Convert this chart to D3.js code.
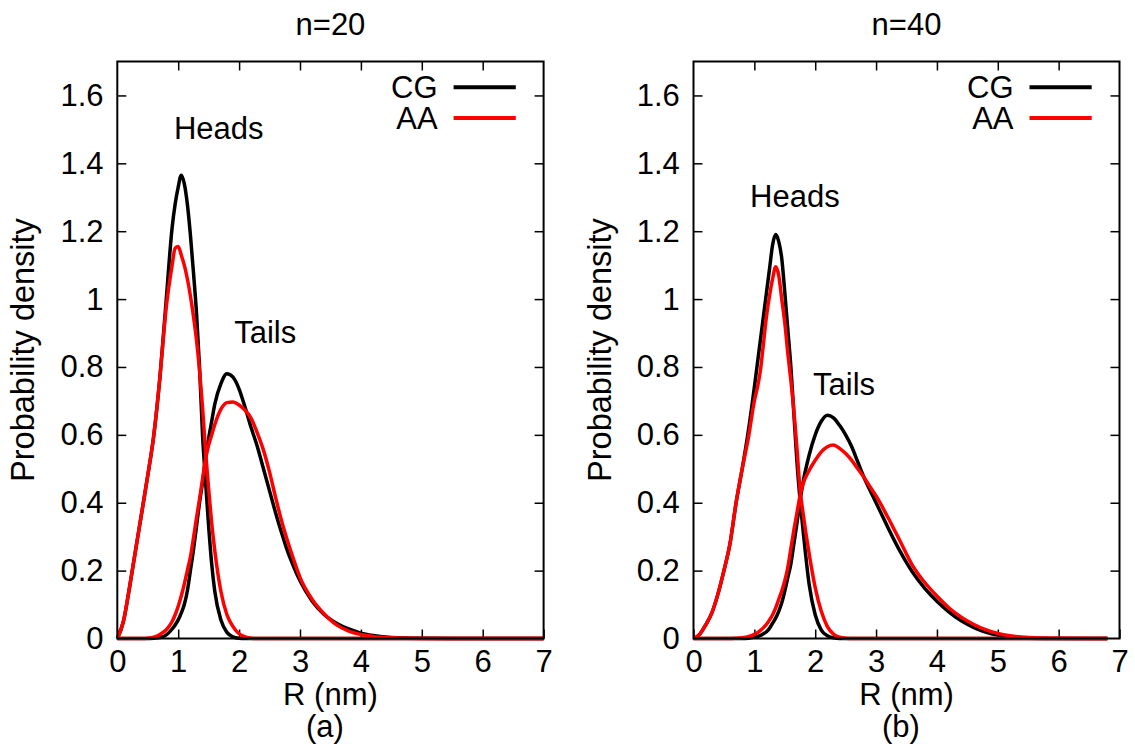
<!DOCTYPE html>
<html>
<head>
<meta charset="utf-8">
<script src="https://cdn.jsdelivr.net/npm/d3@7"></script>
<style>
  html, body { margin: 0; padding: 0; background: #fff; }
  svg { display: block; }
  text { font-family: "Liberation Sans", Arial, Helvetica, sans-serif; fill: #000; }
</style>
</head>
<body>
<svg id="chart" width="1135" height="744"></svg>
<script>
// ---- data: radial probability densities of head and tail groups ----
const rGrid20 = [0, 0.1, 0.2, 0.3, 0.4, 0.5, 0.6, 0.7, 0.8, 0.9,
  0.95, 1.0, 1.05, 1.1, 1.15, 1.2, 1.25, 1.3, 1.35, 1.4, 1.45, 1.5, 1.55, 1.6,
  1.7, 1.8, 1.9, 2.0, 2.1, 2.2, 2.3, 2.4, 2.5, 2.6, 2.7, 2.8, 2.9, 3.0,
  3.2, 3.4, 3.6, 3.8, 4.0, 4.2, 4.5, 5.0, 5.5, 6.0, 6.5, 7.0];

const headsCG20 = [0, 0.05, 0.15, 0.26, 0.37, 0.48, 0.6, 0.77, 0.99, 1.21,
  1.28, 1.33, 1.365, 1.34, 1.28, 1.19, 1.08, 0.96, 0.8, 0.6, 0.46, 0.33, 0.22, 0.14,
  0.055, 0.018, 0.005, 0.001, 0, 0, 0, 0, 0, 0, 0, 0, 0, 0,
  0, 0, 0, 0, 0, 0, 0, 0, 0, 0, 0, 0];
const headsAA20 = [0, 0.05, 0.15, 0.26, 0.37, 0.48, 0.6, 0.77, 0.97, 1.10,
  1.15, 1.155, 1.13, 1.10, 1.06, 1.01, 0.95, 0.88, 0.79, 0.68, 0.55, 0.44, 0.34, 0.26,
  0.14, 0.07, 0.035, 0.014, 0.005, 0.001, 0, 0, 0, 0, 0, 0, 0, 0,
  0, 0, 0, 0, 0, 0, 0, 0, 0, 0, 0, 0];
const tailsCG20 = [0, 0, 0, 0, 0, 0, 0.001, 0.003, 0.01, 0.028,
  0.04, 0.055, 0.075, 0.1, 0.14, 0.2, 0.26, 0.33, 0.4, 0.46, 0.53, 0.59, 0.64, 0.69,
  0.75, 0.78, 0.77, 0.735, 0.68, 0.62, 0.565, 0.5, 0.435, 0.37, 0.31, 0.255, 0.21, 0.17,
  0.11, 0.07, 0.045, 0.028, 0.016, 0.009, 0.003, 0.0005, 0, 0, 0, 0];
const tailsAA20 = [0, 0, 0, 0, 0, 0.001, 0.004, 0.012, 0.025, 0.05,
  0.07, 0.095, 0.125, 0.16, 0.2, 0.24, 0.295, 0.355, 0.41, 0.47, 0.53, 0.57, 0.6, 0.63,
  0.675, 0.695, 0.697, 0.688, 0.672, 0.648, 0.605, 0.555, 0.49, 0.415, 0.345, 0.285, 0.23, 0.18,
  0.115, 0.072, 0.04, 0.022, 0.012, 0.006, 0.002, 0, 0, 0, 0, 0];

const rGrid40 = [0, 0.1, 0.2, 0.3, 0.4, 0.5, 0.6, 0.7, 0.8, 0.9, 1.0,
  1.05, 1.1, 1.15, 1.2, 1.25, 1.3, 1.35, 1.4, 1.45, 1.5, 1.55, 1.6, 1.65, 1.7, 1.75, 1.8,
  1.9, 2.0, 2.1, 2.2, 2.3, 2.4, 2.5, 2.6, 2.7, 2.8, 2.9, 3.0,
  3.2, 3.4, 3.6, 3.8, 4.0, 4.2, 4.4, 4.6, 4.8, 5.0, 5.2,
  5.5, 6.0, 6.5, 6.8];

const headsCG40 = [0, 0.012, 0.04, 0.075, 0.13, 0.2, 0.28, 0.4, 0.5, 0.61, 0.74,
  0.81, 0.88, 0.95, 1.02, 1.09, 1.16, 1.19, 1.17, 1.12, 1.02, 0.91, 0.8, 0.66, 0.52, 0.41, 0.32,
  0.16, 0.07, 0.025, 0.008, 0.002, 0, 0, 0, 0, 0, 0, 0,
  0, 0, 0, 0, 0, 0, 0, 0, 0, 0, 0,
  0, 0, 0, 0];
const headsAA40 = [0, 0.012, 0.04, 0.075, 0.13, 0.2, 0.28, 0.4, 0.5, 0.59, 0.7,
  0.74, 0.79, 0.87, 0.95, 1.01, 1.06, 1.095, 1.07, 1.0, 0.93, 0.84, 0.76, 0.67, 0.56, 0.44, 0.37,
  0.25, 0.15, 0.08, 0.035, 0.013, 0.004, 0.001, 0, 0, 0, 0, 0,
  0, 0, 0, 0, 0, 0, 0, 0, 0, 0, 0,
  0, 0, 0, 0];
const tailsCG40 = [0, 0, 0, 0, 0, 0, 0, 0, 0, 0.001, 0.004,
  0.006, 0.009, 0.014, 0.02, 0.03, 0.045, 0.06, 0.08, 0.105, 0.14, 0.18, 0.22, 0.28, 0.34, 0.405, 0.46,
  0.54, 0.6, 0.64, 0.658, 0.65, 0.628, 0.6, 0.565, 0.52, 0.475, 0.437, 0.4,
  0.325, 0.255, 0.195, 0.148, 0.11, 0.078, 0.052, 0.033, 0.019, 0.01, 0.005,
  0.001, 0, 0, 0];
const tailsAA40 = [0, 0, 0, 0, 0, 0, 0, 0.001, 0.002, 0.005, 0.012,
  0.017, 0.024, 0.032, 0.042, 0.055, 0.07, 0.09, 0.115, 0.14, 0.17, 0.21, 0.265, 0.32, 0.37, 0.42, 0.455,
  0.495, 0.525, 0.55, 0.565, 0.57, 0.56, 0.545, 0.525, 0.5, 0.475, 0.447, 0.42,
  0.355, 0.285, 0.215, 0.165, 0.125, 0.09, 0.063, 0.042, 0.026, 0.015, 0.008,
  0.003, 0.0005, 0, 0];

// axis ticks and text
const xTicks = [0, 1, 2, 3, 4, 5, 6, 7];
const yTicks = [0, 0.2, 0.4, 0.6, 0.8, 1.0, 1.2, 1.4, 1.6];
const panelTitles = ["n=20", "n=40"];
const panelTags = ["(a)", "(b)"];
const legendNames = ["CG", "AA"];
const seriesColors = ["#000000", "#ff0000"];
// annotation positions in data units: [R, density]
const headsLabelAt = [[0.93, 1.471], [0.93, 1.27]];
const tailsLabelAt = [[1.92, 0.871], [1.964, 0.718]];

// ---- layout ----
const svg = d3.select("#chart");
const FONT = 31;
const plotTop = 61.5, plotBottom = 638.5;
const panels = [
  { x0: 117.3, x1: 543.6, grid: rGrid20, series: [headsCG20, tailsCG20, headsAA20, tailsAA20],
    ylab: 34 },
  { x0: 693.5, x1: 1119.5, grid: rGrid40, series: [headsCG40, tailsCG40, headsAA40, tailsAA40],
    ylab: 610.5 }
];
const seriesColorIdx = [0, 0, 1, 1];

svg.append("rect").attr("width", 1135).attr("height", 744).attr("fill", "#fff");

panels.forEach((p, i) => {
  const x = d3.scaleLinear().domain([0, 7]).range([p.x0, p.x1]);
  const y = d3.scaleLinear().domain([0, 1.7]).range([plotBottom, plotTop]);
  const g = svg.append("g");

  const fmt = d => String(+d.toFixed(1));

  // bottom axis with labels, inward ticks
  const ax = g.append("g").attr("transform", `translate(0,${plotBottom})`)
    .call(d3.axisBottom(x).tickValues(xTicks).tickFormat(fmt).tickSizeInner(-9).tickSizeOuter(0).tickPadding(11.5));
  // left axis with labels
  const ay = g.append("g").attr("transform", `translate(${p.x0},0)`)
    .call(d3.axisLeft(y).tickValues(yTicks).tickFormat(fmt).tickSizeInner(-9).tickSizeOuter(0).tickPadding(13.7));
  // mirrored ticks on top and right
  const at = g.append("g").attr("transform", `translate(0,${plotTop})`)
    .call(d3.axisTop(x).tickValues(xTicks.slice(1, -1)).tickFormat("").tickSizeInner(-9).tickSizeOuter(0));
  const ar = g.append("g").attr("transform", `translate(${p.x1},0)`)
    .call(d3.axisRight(y).tickValues(yTicks.slice(1)).tickFormat("").tickSizeInner(-9).tickSizeOuter(0));

  [ax, ay, at, ar].forEach(a => {
    a.select(".domain").remove();
    a.selectAll(".tick line").attr("stroke", "#000").attr("stroke-width", 1.5);
    a.selectAll(".tick text").attr("font-size", FONT).attr("fill", "#000")
      .style("font-family", '"Liberation Sans", Arial, sans-serif');
  });

  // curves: CG first, AA drawn over it
  const line = d3.line()
    .x((d, k) => x(p.grid[k]))
    .y(d => y(d))
    .curve(d3.curveMonotoneX);
  p.series.forEach((s, k) => {
    g.append("path").datum(s)
      .attr("d", line)
      .attr("fill", "none")
      .attr("stroke", seriesColors[seriesColorIdx[k]])
      .attr("stroke-width", 3.5)
      .attr("stroke-linejoin", "round");
  });

  // frame
  g.append("rect")
    .attr("x", p.x0).attr("y", plotTop)
    .attr("width", p.x1 - p.x0).attr("height", plotBottom - plotTop)
    .attr("fill", "none").attr("stroke", "#000").attr("stroke-width", 2);

  const cx = (p.x0 + p.x1) / 2;
  // title
  g.append("text").attr("x", cx).attr("y", 35).attr("text-anchor", "middle")
    .attr("font-size", FONT).text(panelTitles[i]);
  // x label and panel tag
  g.append("text").attr("x", cx).attr("y", 705).attr("text-anchor", "middle")
    .attr("font-size", FONT).text("R (nm)");
  g.append("text").attr("x", cx - 5.5).attr("y", 737).attr("text-anchor", "middle")
    .attr("font-size", FONT).text(panelTags[i]);
  // y label
  g.append("text")
    .attr("transform", `translate(${p.ylab},${(plotTop + plotBottom) / 2}) rotate(-90)`)
    .attr("text-anchor", "middle").attr("font-size", 32.5)
    .text("Probability density");

  // annotations
  g.append("text").attr("x", x(headsLabelAt[i][0])).attr("y", y(headsLabelAt[i][1]))
    .attr("font-size", FONT).text("Heads");
  g.append("text").attr("x", x(tailsLabelAt[i][0])).attr("y", y(tailsLabelAt[i][1]))
    .attr("font-size", FONT).text("Tails");

  // legend
  legendNames.forEach((name, k) => {
    const ly = [87.3, 118][k];
    g.append("text").attr("x", p.x1 - 106).attr("y", ly).attr("dy", "0.35em")
      .attr("text-anchor", "end").attr("font-size", FONT).text(name);
    g.append("line")
      .attr("x1", p.x1 - 90).attr("x2", p.x1 - 27.8)
      .attr("y1", ly).attr("y2", ly)
      .attr("stroke", seriesColors[k]).attr("stroke-width", 4);
  });
});
</script>
</body>
</html>
